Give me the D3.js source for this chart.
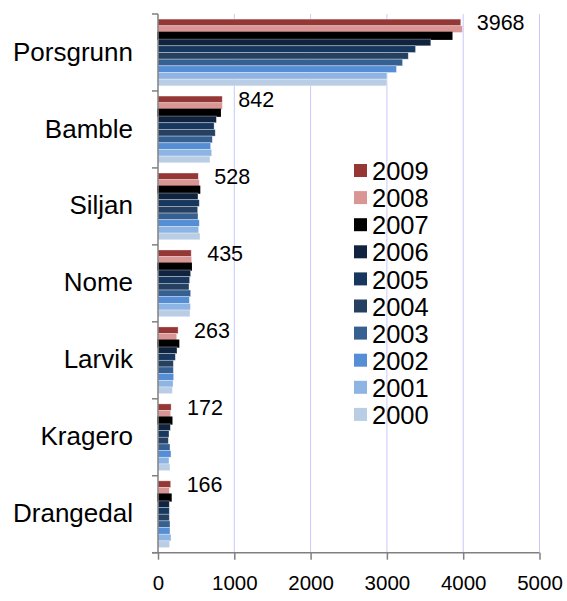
<!DOCTYPE html>
<html>
<head>
<meta charset="utf-8">
<script src="https://cdn.jsdelivr.net/npm/d3@7"></script>
<style>
  body { margin: 0; background: #fff; }
  text { font-family: "Liberation Sans", Arial, sans-serif; fill: #000; }
</style>
</head>
<body>
<div id="chart"></div>
<script>
// categories (top to bottom)
var places = ["Porsgrunn", "Bamble", "Siljan", "Nome", "Larvik", "Kragero", "Drangedal"];
// series, drawn top to bottom inside each group
var years = ["2009", "2008", "2007", "2006", "2005", "2004", "2003", "2002", "2001", "2000"];
var colors = ["#953735", "#D99694", "#000000", "#10243F", "#17375E", "#254061", "#376092", "#558ED5", "#8EB4E3", "#B9CDE5"];
// values per place, in the same order as years
var values = {
  Porsgrunn: [3968, 3990, 3850, 3575, 3375, 3280, 3205, 3125, 3000, 3000],
  Bamble:    [842, 843, 815, 765, 735, 750, 712, 690, 703, 681],
  Siljan:    [528, 542, 545, 524, 541, 520, 524, 541, 533, 550],
  Nome:      [435, 441, 435, 428, 415, 406, 428, 411, 424, 419],
  Larvik:    [263, 245, 270, 249, 227, 201, 201, 205, 197, 188],
  Kragero:   [172, 166, 180, 162, 144, 135, 157, 170, 144, 157],
  Drangedal: [166, 148, 170, 148, 148, 148, 157, 157, 170, 152]
};
var xTicks = [0, 1000, 2000, 3000, 4000, 5000];

(function () {
  var w = 567, h = 601;
  var plotLeft = 158, plotRight = 539.5, plotTop = 14, plotBottom = 552.7;

  var svg = d3.select("#chart").append("svg")
    .attr("width", w)
    .attr("height", h);

  var x = d3.scaleLinear().domain([0, 5000]).range([plotLeft, plotRight]);

  var y0 = d3.scaleBand().domain(places).range([plotTop, plotBottom])
    .paddingInner(0.133).paddingOuter(0.0665);

  var y1 = d3.scaleBand().domain(years).range([0, y0.bandwidth()]);

  // gridlines
  svg.append("g")
    .selectAll("line")
    .data(xTicks.slice(1))
    .join("line")
    .attr("x1", d => x(d)).attr("x2", d => x(d))
    .attr("y1", plotTop).attr("y2", plotBottom)
    .attr("stroke", "#C9C9FF")
    .attr("stroke-width", 1);

  // bars
  var groups = svg.append("g")
    .selectAll("g")
    .data(places)
    .join("g")
    .attr("transform", d => "translate(0," + y0(d) + ")");

  groups.selectAll("rect")
    .data(p => years.map((yr, i) => ({ year: yr, value: values[p][i], color: colors[i] })))
    .join("rect")
    .attr("x", x(0))
    .attr("y", d => y1(d.year))
    .attr("width", d => x(d.value) - x(0))
    .attr("height", y1.bandwidth())
    .attr("fill", d => d.color)
    .attr("stroke", d => d.year === "2007" ? "#000" : "rgba(255,255,255,0.45)")
    .attr("stroke-width", d => d.year === "2007" ? 1.5 : 0.7);

  // value labels on the 2009 bars
  groups.append("text")
    .attr("x", p => x(values[p][0]) + 16)
    .attr("y", y1("2009") + y1.bandwidth() / 2)
    .attr("dy", "0.35em")
    .style("font-size", "21.5px")
    .text(p => values[p][0]);

  // y axis
  var yAxis = svg.append("g")
    .attr("transform", "translate(" + plotLeft + ",0)");
  yAxis.append("line")
    .attr("x1", 0).attr("x2", 0)
    .attr("y1", plotTop).attr("y2", plotBottom)
    .attr("stroke", "#808080").attr("stroke-width", 1.5);
  yAxis.selectAll(".tk")
    .data(d3.range(places.length + 1))
    .join("line")
    .attr("x1", -6).attr("x2", 0)
    .attr("y1", i => plotTop + i * y0.step())
    .attr("y2", i => plotTop + i * y0.step())
    .attr("stroke", "#808080").attr("stroke-width", 1.5);
  yAxis.selectAll("text")
    .data(places)
    .join("text")
    .attr("x", -25)
    .attr("y", d => y0(d) + y0.bandwidth() / 2 - 1)
    .attr("dy", "0.35em")
    .attr("text-anchor", "end")
    .style("font-size", "26px")
    .text(d => d);

  // x axis
  var xAxis = d3.axisBottom(x).tickValues(xTicks).tickSize(7).tickPadding(16).tickFormat(d3.format("d"));
  var gx = svg.append("g")
    .attr("transform", "translate(0," + plotBottom + ")")
    .call(xAxis);
  gx.select(".domain").attr("stroke", "#808080").attr("stroke-width", 1.5)
    .attr("d", "M" + (plotLeft - 6) + ",0H" + plotRight);
  gx.selectAll(".tick line").attr("stroke", "#808080").attr("stroke-width", 1.5);
  gx.selectAll(".tick text")
    .style("font-size", "20.5px")
    .style("font-family", "'Liberation Sans', Arial, sans-serif")
    .attr("fill", "#000");

  // legend
  var legend = svg.append("g")
    .attr("transform", "translate(354,171)");
  var rows = legend.selectAll("g")
    .data(years)
    .join("g")
    .attr("transform", (d, i) => "translate(0," + i * 27.1 + ")");
  rows.append("rect")
    .attr("x", 0).attr("y", -7)
    .attr("width", 13).attr("height", 13)
    .attr("fill", (d, i) => colors[i]);
  rows.append("text")
    .attr("x", 18)
    .attr("y", 0)
    .attr("dy", "0.36em")
    .style("font-size", "25.5px")
    .text(d => d);
})();
</script>
</body>
</html>
